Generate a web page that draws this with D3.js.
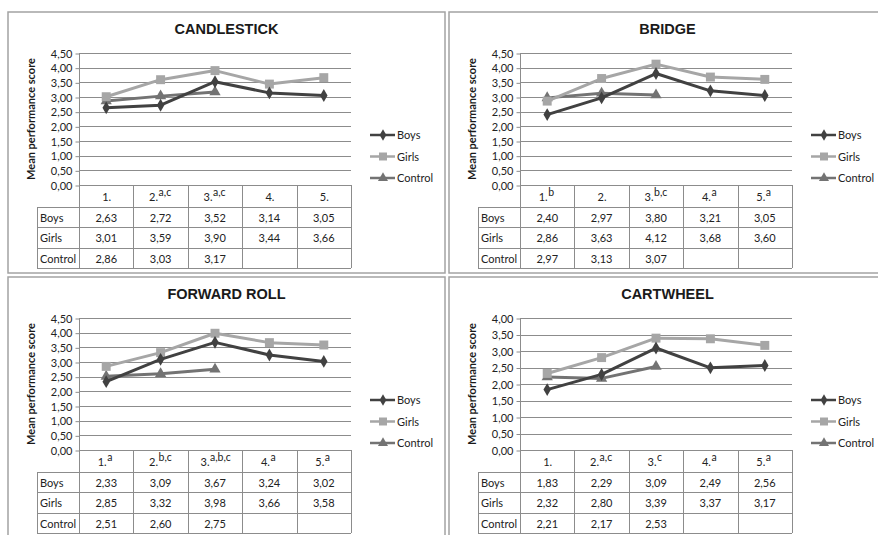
<!DOCTYPE html>
<html>
<head>
<meta charset="utf-8">
<script src="https://cdn.jsdelivr.net/npm/d3@7"></script>
<style>
  html, body { margin: 0; padding: 0; background: #fff; }
  svg { display: block; }
</style>
</head>
<body>
<svg id="chart" width="878" height="535"></svg>
<script>
// Series shown in every panel
const seriesNames = ["Boys", "Girls", "Control"];

// Candlestick
const candlestickLabels = [["1.", ""], ["2.", "a,c"], ["3.", "a,c"], ["4.", ""], ["5.", ""]];
const candlestickBoys = [2.63, 2.72, 3.52, 3.14, 3.05];
const candlestickGirls = [3.01, 3.59, 3.90, 3.44, 3.66];
const candlestickControl = [2.86, 3.03, 3.17];

// Bridge
const bridgeLabels = [["1.", "b"], ["2.", ""], ["3.", "b,c"], ["4.", "a"], ["5.", "a"]];
const bridgeBoys = [2.40, 2.97, 3.80, 3.21, 3.05];
const bridgeGirls = [2.86, 3.63, 4.12, 3.68, 3.60];
const bridgeControl = [2.97, 3.13, 3.07];

// Forward roll
const forwardRollLabels = [["1.", "a"], ["2.", "b,c"], ["3.", "a,b,c"], ["4.", "a"], ["5. ", "a"]];
const forwardRollBoys = [2.33, 3.09, 3.67, 3.24, 3.02];
const forwardRollGirls = [2.85, 3.32, 3.98, 3.66, 3.58];
const forwardRollControl = [2.51, 2.60, 2.75];

// Cartwheel
const cartwheelLabels = [["1.", ""], ["2.", "a,c"], ["3.", "c"], ["4.", "a"], ["5.", "a"]];
const cartwheelBoys = [1.83, 2.29, 3.09, 2.49, 2.56];
const cartwheelGirls = [2.32, 2.80, 3.39, 3.37, 3.17];
const cartwheelControl = [2.21, 2.17, 2.53];

// Y-axis maxima (ticks every 0,50)
const yMaxTop = 4.5;
const yMaxCartwheel = 4.0;

const panels = [
  { title: "CANDLESTICK", x: 8, y: 12, labels: candlestickLabels, yMax: yMaxTop,
    values: [candlestickBoys, candlestickGirls, candlestickControl] },
  { title: "BRIDGE", x: 449, y: 12, labels: bridgeLabels, yMax: yMaxTop,
    values: [bridgeBoys, bridgeGirls, bridgeControl] },
  { title: "FORWARD ROLL", x: 8, y: 277, labels: forwardRollLabels, yMax: yMaxTop,
    values: [forwardRollBoys, forwardRollGirls, forwardRollControl] },
  { title: "CARTWHEEL", x: 449, y: 277, labels: cartwheelLabels, yMax: yMaxCartwheel,
    values: [cartwheelBoys, cartwheelGirls, cartwheelControl] }
];

const styles = {
  Boys:    { color: "#414141", symbol: d3.symbolDiamond, size: 48 },
  Girls:   { color: "#a6a6a6", symbol: d3.symbolSquare, size: 80 },
  Control: { color: "#737373", symbol: d3.symbolTriangle, size: 55 }
};

const comma = v => d3.format(".2f")(v).replace(".", ",");

const W = 437, H = 261;
const plotL = 71, plotR = 343, plotT = 41, plotB = 173;
const rowH = [195, 215, 236, 256];
const labelColL = 29;
const gridColor = "#8c8c8c";
const bodyFont = "Lato, 'Open Sans', sans-serif";
const fs = 11;

const svg = d3.select("#chart");

panels.forEach(p => {
  const g = svg.append("g").attr("transform", `translate(${p.x},${p.y})`);

  // panel frame
  g.append("rect")
    .attr("x", 0).attr("y", 0).attr("width", W).attr("height", H)
    .attr("fill", "#fff").attr("stroke", "#a3a3a3").attr("stroke-width", 1.5);

  // title
  g.append("text")
    .attr("x", W / 2).attr("y", 22)
    .attr("text-anchor", "middle")
    .attr("font-family", "'Liberation Sans', Arial, sans-serif")
    .attr("font-weight", "bold").attr("font-size", 14.5)
    .attr("fill", "#1a1a1a")
    .text(p.title);

  const x = d3.scaleBand().domain(d3.range(5)).range([plotL, plotR]);
  const y = d3.scaleLinear().domain([0, p.yMax]).range([plotB, plotT]);
  const ticks = d3.range(0, p.yMax + 0.001, 0.5);

  // gridlines
  g.append("g").selectAll("line").data(ticks).join("line")
    .attr("x1", plotL).attr("x2", plotR)
    .attr("y1", d => Math.round(y(d)) + 0.5).attr("y2", d => Math.round(y(d)) + 0.5)
    .attr("stroke", gridColor).attr("stroke-width", 1);

  // y axis with tick labels
  const axis = g.append("g")
    .attr("transform", `translate(${plotL + 0.5},0.5)`)
    .call(d3.axisLeft(y).tickValues(ticks).tickFormat(comma).tickSize(4).tickPadding(3));
  axis.select(".domain").remove();
  axis.selectAll(".tick line").attr("stroke", gridColor);
  axis.selectAll(".tick text")
    .attr("font-family", bodyFont).attr("font-size", fs).attr("fill", "#222");

  // y axis title
  g.append("text")
    .attr("transform", `translate(27,${(plotT + plotB) / 2}) rotate(-90)`)
    .attr("text-anchor", "middle")
    .attr("font-family", bodyFont).attr("font-weight", "bold")
    .attr("font-size", 11).attr("fill", "#1a1a1a")
    .text("Mean performance score");

  // data table grid
  const tg = g.append("g").attr("stroke", gridColor).attr("stroke-width", 1);
  tg.append("line").attr("x1", plotL + 0.5).attr("x2", plotL + 0.5)
    .attr("y1", plotT).attr("y2", rowH[3]);
  rowH.forEach(r => {
    tg.append("line").attr("x1", labelColL).attr("x2", plotR)
      .attr("y1", r + 0.5).attr("y2", r + 0.5);
  });
  tg.append("line").attr("x1", labelColL + 0.5).attr("x2", labelColL + 0.5)
    .attr("y1", rowH[0]).attr("y2", rowH[3]);
  d3.range(1, 6).forEach(i => {
    const xv = Math.round(plotL + x.step() * i) + 0.5;
    tg.append("line").attr("x1", xv).attr("x2", xv)
      .attr("y1", plotB).attr("y2", rowH[3]);
  });

  // category headers, with superscript notes as separate small labels
  p.labels.forEach((lab, i) => {
    const cx = x(i) + x.bandwidth() / 2 - (lab[1] ? 3 + lab[1].length * 1.5 : 0);
    g.append("text")
      .attr("x", cx).attr("y", 189)
      .attr("text-anchor", "end")
      .attr("dx", 5)
      .attr("font-family", bodyFont).attr("font-size", fs).attr("fill", "#222")
      .text(lab[0]);
    if (lab[1]) {
      g.append("text")
        .attr("x", cx + 5.5).attr("y", 184)
        .attr("font-family", bodyFont).attr("font-size", 10.5).attr("fill", "#222")
        .text(lab[1]);
    }
  });

  // row labels and values
  seriesNames.forEach((name, si) => {
    const base = rowH[si] + 14.5;
    g.append("text").attr("x", labelColL + 3).attr("y", base)
      .attr("font-family", bodyFont).attr("font-size", fs).attr("fill", "#222")
      .text(name);
    g.append("g").selectAll("text").data(p.values[si]).join("text")
      .attr("x", (d, i) => x(i) + x.bandwidth() / 2).attr("y", base)
      .attr("text-anchor", "middle")
      .attr("font-family", bodyFont).attr("font-size", fs).attr("fill", "#222")
      .text(d => comma(d));
  });

  // series lines and markers (Control, Girls, then Boys on top)
  const line = d3.line().x((d, i) => x(i) + x.bandwidth() / 2).y(d => y(d));
  [2, 1, 0].forEach(si => {
    const st = styles[seriesNames[si]];
    const vals = p.values[si];
    g.append("path").datum(vals).attr("d", line)
      .attr("fill", "none").attr("stroke", st.color).attr("stroke-width", 3)
      .attr("stroke-linejoin", "round");
    g.append("g").selectAll("path").data(vals).join("path")
      .attr("transform", (d, i) => `translate(${x(i) + x.bandwidth() / 2},${y(d)})`)
      .attr("d", d3.symbol().type(st.symbol).size(st.size))
      .attr("fill", st.color);
  });

  // legend
  seriesNames.forEach((name, si) => {
    const st = styles[name];
    const ly = 123 + si * 21.5;
    g.append("line").attr("x1", 362).attr("x2", 387).attr("y1", ly).attr("y2", ly)
      .attr("stroke", st.color).attr("stroke-width", 2.5);
    g.append("path").attr("transform", `translate(375,${ly})`)
      .attr("d", d3.symbol().type(st.symbol).size(st.size * 0.8))
      .attr("fill", st.color);
    g.append("text").attr("x", 389).attr("y", ly + 4)
      .attr("font-family", bodyFont).attr("font-size", fs).attr("fill", "#222")
      .text(name);
  });
});
</script>
</body>
</html>
